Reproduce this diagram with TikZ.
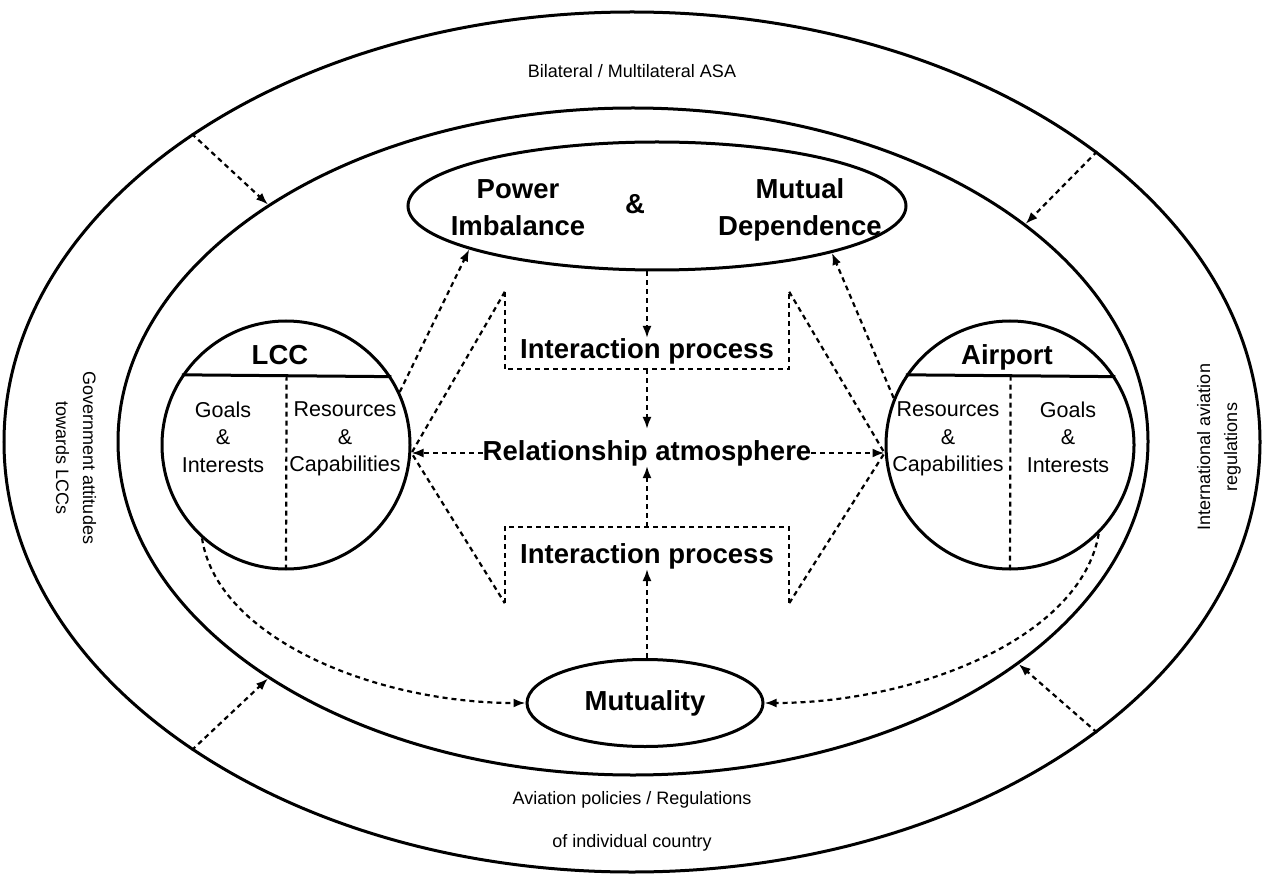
\documentclass[tikz,border=0pt]{standalone}
\usepackage{fontspec}
\setmainfont{Liberation Sans}
\usetikzlibrary{shapes.geometric,arrows.meta,calc}

\begin{document}
\begin{tikzpicture}[x=1pt,y=-1pt,
  oval/.style={draw,line width=3pt,ellipse,inner sep=0pt},
  disc/.style={draw,line width=3pt,circle,inner sep=0pt,minimum size=248pt},
  dline/.style={line width=2.2pt,dash pattern=on 5pt off 4pt},
  darrow/.style={dline,-{Latex[length=12pt,width=9pt]}},
  bigtxt/.style={font=\fontsize{27.5}{37}\selectfont\bfseries,align=center,inner sep=0pt},
  midtxt/.style={font=\fontsize{21.5}{27.5}\selectfont,align=center,inner sep=0pt},
  lbltxt/.style={font=\fontsize{18}{27}\selectfont,align=center,inner sep=0pt},
]
\useasboundingbox (0,0) rectangle (1263,874);
\fill[white] (0,0) rectangle (1263,874);

% frames
\node[oval,minimum width=1256pt,minimum height=860pt] (outer) at (632,442) {};
\node[oval,minimum width=1030pt,minimum height=667pt] (inner) at (633,441.5) {};

% environment labels
\node[lbltxt] (bil) at (632,71) {Bilateral / Multilateral ASA};
\node[lbltxt] (avp) at (632,800) {Aviation policies / Regulations};
\node[lbltxt] (indiv) at (632,843) {of individual country};
\node[lbltxt,rotate=-90] (gov) at (76,458) {Government attitudes\\towards LCCs};
\node[lbltxt,rotate=90] (intl) at (1219,447) {International aviation\\regulations};

% environment influences
\draw[darrow] (outer.145) -- (inner.147.5);
\draw[darrow] (outer.32) -- (inner.29.5);
\draw[darrow] (outer.215) -- (inner.213);
\draw[darrow] (outer.328) -- (inner.330.5);

% power / dependence
\node[oval,minimum width=498pt,minimum height=128pt] (pm) at (657,206) {};
\node[bigtxt] (pw) at (518,208) {Power\\Imbalance};
\node[bigtxt] (amp) at (635,204) {\&};
\node[bigtxt] (md) at (800,210) {Mutual\\Dependence};

% mutuality
\node[oval,bigtxt,minimum width=236pt,minimum height=87pt] (mu) at (645,703) {Mutuality};

% LCC
\node[disc] (lcc) at (286,445) {};
\draw[line width=3pt] (lcc.146.7) -- (lcc.33.3);
\draw[dline] ($(lcc.146.7)!0.5!(lcc.33.3)$) -- (lcc.south);
\node[bigtxt] (lcct) at (280,355) {LCC};
\node[midtxt] (lg) at (223,437) {Goals\\\&\\Interests};
\node[midtxt] (lr) at (345,439) {Resources\\\&\\Capabilities};

% Airport
\node[disc] (ap) at (1010,445) {};
\draw[line width=3pt] (ap.146.7) -- (ap.33.3);
\draw[dline] ($(ap.146.7)!0.5!(ap.33.3)$) -- (ap.south);
\node[bigtxt] (apt) at (1007,357) {Airport};
\node[midtxt] (ar) at (948,439) {Resources\\\&\\Capabilities};
\node[midtxt] (ag) at (1068,437) {Goals\\\&\\Interests};

% interaction brackets
\node[minimum width=284pt,minimum height=77pt,inner sep=0pt] (b1) at (647,330.5) {};
\draw[dline] (b1.north west) -- (b1.south west) -- (b1.south east) -- (b1.north east);
\node[bigtxt] (ip1) at (647,351) {Interaction process};
\node[minimum width=284pt,minimum height=76pt,inner sep=0pt] (b2) at (647,565) {};
\draw[dline] (b2.south west) -- (b2.north west) -- (b2.north east) -- (b2.south east);
\node[bigtxt] (ip2) at (647,556) {Interaction process};

\node[bigtxt] (ra) at (647,453) {Relationship atmosphere};

% vertical flow
\draw[darrow] (pm.south -| ip1) -- (ip1.north);
\draw[darrow] (b1.south) -- ([yshift=11pt]ra.north);
\draw[darrow] (b2.north) -- (ra.south);
\draw[darrow] (mu.north -| ip2) -- (ip2.south);

% atmosphere to the two parties
\coordinate (lr0) at (ra.west -| lcc.east);
\coordinate (ar0) at (ra.east -| ap.west);
\draw[darrow] (ra.west) -- (lr0);
\draw[darrow] (ra.east) -- (ar0);
\draw[dline] (b1.north west) -- (lr0) -- (b2.south west);
\draw[dline] (b1.north east) -- (ar0) -- (b2.south east);

% parties to power / dependence
\draw[darrow] (lcc.25) -- (pm.193);
\draw[darrow] (ap.158) -- (pm.345);

% parties to mutuality
\draw[darrow] (lcc.228) .. controls +(15,100) and +(-150,0) .. (mu.west);
\draw[darrow] (ap.315) .. controls +(-18,105) and +(150,0) .. (mu.east);
\end{tikzpicture}
\end{document}
